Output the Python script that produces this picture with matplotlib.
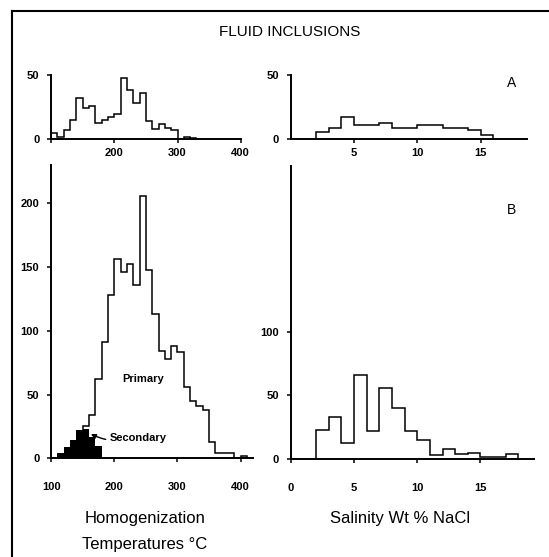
import matplotlib.pyplot as plt
from matplotlib.lines import Line2D
import numpy as np

plt.rcParams['font.family'] = ['Liberation Sans', 'DejaVu Sans']

# A: homogenization temperature, 10 degC bins starting at 100
temp_a_edges = np.arange(100, 340, 10)
temp_a_counts = [5, 2, 7, 15, 32, 24, 26, 13, 15, 17, 20, 48, 38, 28, 36, 14, 8, 12, 9, 7, 0, 2, 1]

# A: salinity, 1 wt% bins starting at 2
sal_a_edges = np.arange(2, 17, 1)
sal_a_counts = [6, 9, 17, 11, 11, 13, 9, 9, 11, 11, 9, 9, 7, 3]

# B: primary inclusions, 10 degC bins starting at 150
prim_edges = np.arange(150, 420, 10)
prim_counts = [25, 34, 62, 91, 128, 156, 146, 152, 136, 206, 148, 113, 84, 78, 88, 83,
               56, 45, 41, 38, 13, 4, 4, 4, 0, 2]

# B: secondary inclusions, 10 degC bins starting at 110
sec_edges = np.arange(110, 190, 10)
sec_counts = [4, 9, 14, 22, 23, 17, 10]

# B: salinity, 1 wt% bins starting at 2
sal_b_edges = np.arange(2, 19, 1)
sal_b_counts = [23, 33, 13, 66, 22, 56, 40, 22, 15, 3, 8, 4, 5, 2, 2, 4]

W, H = 549, 557
fig = plt.figure(figsize=(W / 100, H / 100), dpi=100)


def box(l, r, b, t):
    return [l / W, 1 - b / H, (r - l) / W, (b - t) / H]


ax_ta = fig.add_axes(box(51.1, 240.7, 139.3, 75))
ax_sa = fig.add_axes(box(290.7, 526.7, 139.3, 75))
ax_tb = fig.add_axes(box(51.1, 253.3, 458.3, 165))
ax_sb = fig.add_axes(box(290.7, 533.6, 459.3, 165.5))

lw = 1.1
for ax in (ax_ta, ax_sa, ax_tb, ax_sb):
    ax.spines[['top', 'right']].set_visible(False)
    ax.spines[['left', 'bottom']].set_linewidth(1.4)
    ax.tick_params(direction='out', length=3, width=1.1, labelsize=8)
    ax.tick_params(axis='y', pad=5.5)
    ax.patch.set_alpha(0)
    for lab in ax.get_xticklabels() + ax.get_yticklabels():
        lab.set_fontweight('bold')

ax_ta.stairs(temp_a_counts, temp_a_edges, color='k', lw=lw)
ax_ta.set_xlim(100, 400)
ax_ta.set_ylim(0, 50)
ax_ta.set_xticks([100, 200, 300, 400], ['', '200', '300', '400'], fontweight='bold')
ax_ta.set_yticks([0, 50], ['0', '50'], fontweight='bold')
ax_ta.tick_params(axis='x', pad=3)

ax_sa.stairs(sal_a_counts, sal_a_edges, color='k', lw=lw)
ax_sa.set_xlim(0, 18.65)
ax_sa.set_ylim(0, 50)
ax_sa.set_xticks([5, 10, 15], ['5', '10', '15'], fontweight='bold')
ax_sa.set_yticks([0, 50], ['0', '50'], fontweight='bold')
ax_sa.tick_params(axis='x', pad=3)

ax_tb.stairs(sec_counts, sec_edges, fill=True, color='k')
ax_tb.stairs(prim_counts, prim_edges, color='k', lw=lw)
ax_tb.set_xlim(100, 420)
ax_tb.set_ylim(0, 230)
ax_tb.set_xticks([100, 200, 300, 400], ['100', '200', '300', '400'], fontweight='bold')
ax_tb.set_yticks([0, 50, 100, 150, 200], ['0', '50', '100', '150', '200'], fontweight='bold')
ax_tb.tick_params(axis='x', pad=14)
ax_tb.text(245, 62, 'Primary', ha='center', va='center', fontsize=8, fontweight='bold')
ax_tb.annotate('Secondary', xy=(163, 19), xytext=(193, 16), ha='left', va='center',
               fontsize=8, fontweight='bold',
               arrowprops=dict(arrowstyle='-|>', color='k', lw=1, mutation_scale=7,
                               connectionstyle='arc3,rad=-0.2', shrinkA=1, shrinkB=0))

ax_sb.stairs(sal_b_counts, sal_b_edges, color='k', lw=lw)
ax_sb.set_xlim(0, 19.2)
ax_sb.set_ylim(0, 230)
ax_sb.set_xticks([0, 5, 10, 15], ['0', '5', '10', '15'], fontweight='bold')
ax_sb.set_yticks([0, 50, 100], ['0', '50', '100'], fontweight='bold')
ax_sb.tick_params(axis='x', pad=14)

fig.text(290 / W, 1 - 32 / H, 'FLUID INCLUSIONS', ha='center', va='center', fontsize=11)
fig.text(512 / W, 1 - 83 / H, 'A', ha='center', va='center', fontsize=10)
fig.text(512 / W, 1 - 210 / H, 'B', ha='center', va='center', fontsize=10)
fig.text(145 / W, 1 - 518 / H, 'Homogenization', ha='center', va='center', fontsize=12)
fig.text(145 / W, 1 - 545 / H, 'Temperatures \u00b0C', ha='center', va='center', fontsize=12)
fig.text(400 / W, 1 - 518 / H, 'Salinity Wt % NaCl', ha='center', va='center', fontsize=12)

fig.add_artist(Line2D([12 / W, 12 / W], [0, 1 - 11 / H], color='k', lw=1.5))
fig.add_artist(Line2D([12 / W, 1], [1 - 11 / H, 1 - 11 / H], color='k', lw=1.5))

fig.savefig('out.png', dpi=100)
